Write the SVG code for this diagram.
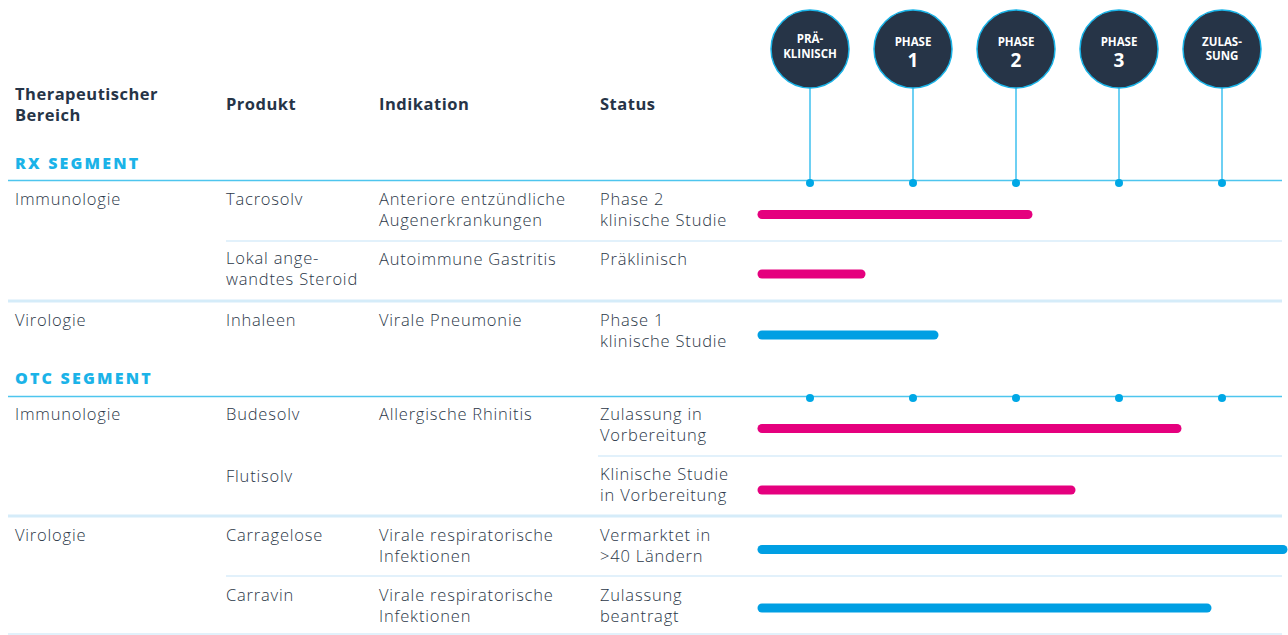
<svg xmlns="http://www.w3.org/2000/svg" width="1288" height="635" viewBox="0 0 1288 635">
<style>
.hd{font-family:"Open Sans","Liberation Sans",sans-serif;font-weight:700;font-size:16.5px;fill:#263447;letter-spacing:0.5px}
.tx{font-family:"Open Sans","Liberation Sans",sans-serif;font-weight:300;font-size:16.5px;fill:#2b3748;letter-spacing:0.8px}
.seg{font-family:"Open Sans","Liberation Sans",sans-serif;font-weight:800;font-size:16px;fill:#1bb3e8;letter-spacing:2.2px}
.ct{font-family:"Open Sans","Liberation Sans",sans-serif;font-weight:700;font-size:11.5px;fill:#ffffff;text-anchor:middle}
.cn{font-family:"Open Sans","Liberation Sans",sans-serif;font-weight:700;font-size:19px;fill:#ffffff;text-anchor:middle}
.axis{stroke:#4ec5ee;stroke-width:1.5;fill:none}
.sep{stroke:#e2f1fb;stroke-width:2;fill:none}
.sepb{stroke:#d5ecf9;stroke-width:3;fill:none}
.stem{stroke:#3ec1ef;stroke-width:1.5}
.dot{fill:#00a8e6}
.circ{fill:#263447;stroke:#1ab4e8;stroke-width:1.5}
.barm{stroke:#e5007e;stroke-width:9;stroke-linecap:round}
.barb{stroke:#009fe3;stroke-width:9;stroke-linecap:round}
</style>
<rect width="1288" height="635" fill="#ffffff"/>

<g id="headers">
<text class="hd" x="15" y="100">Therapeutischer</text>
<text class="hd" x="15" y="121">Bereich</text>
<text class="hd" x="226" y="110">Produkt</text>
<text class="hd" x="379" y="110">Indikation</text>
<text class="hd" x="600" y="110">Status</text>
<text class="seg" x="15" y="169">RX SEGMENT</text>
<text class="seg" x="15" y="384">OTC SEGMENT</text>
</g>

<g id="connectors">
<line class="axis" x1="8" y1="180.5" x2="1282" y2="180.5"/>
<line class="axis" x1="8" y1="396.5" x2="1282" y2="396.5"/>
<line class="sep" x1="226" y1="241" x2="1282" y2="241"/>
<line class="sepb" x1="8" y1="301" x2="1282" y2="301"/>
<line class="sep" x1="598" y1="456" x2="1282" y2="456"/>
<line class="sepb" x1="8" y1="516" x2="1282" y2="516"/>
<line class="sep" x1="226" y1="576" x2="1282" y2="576"/>
<line class="sep" x1="8" y1="634" x2="1282" y2="634"/>
<line class="stem" x1="810" y1="88" x2="810" y2="183"/>
<line class="stem" x1="913" y1="88" x2="913" y2="183"/>
<line class="stem" x1="1016" y1="88" x2="1016" y2="183"/>
<line class="stem" x1="1119" y1="88" x2="1119" y2="183"/>
<line class="stem" x1="1222" y1="88" x2="1222" y2="183"/>
<circle class="dot" cx="810" cy="183" r="4"/>
<circle class="dot" cx="913" cy="183" r="4"/>
<circle class="dot" cx="1016" cy="183" r="4"/>
<circle class="dot" cx="1119" cy="183" r="4"/>
<circle class="dot" cx="1222" cy="183" r="4"/>
<circle class="dot" cx="810" cy="398" r="4"/>
<circle class="dot" cx="913" cy="398" r="4"/>
<circle class="dot" cx="1016" cy="398" r="4"/>
<circle class="dot" cx="1119" cy="398" r="4"/>
<circle class="dot" cx="1222" cy="398" r="4"/>
</g>

<g id="phase-praeklinisch">
<circle class="circ" cx="810" cy="49" r="39"/>
<text class="ct" x="810" y="43">PRÄ-</text>
<text class="ct" x="810" y="58">KLINISCH</text>
</g>
<g id="phase-1">
<circle class="circ" cx="913" cy="49" r="39"/>
<text class="ct" x="913" y="46">PHASE</text>
<text class="cn" x="913" y="67">1</text>
</g>
<g id="phase-2">
<circle class="circ" cx="1016" cy="49" r="39"/>
<text class="ct" x="1016" y="46">PHASE</text>
<text class="cn" x="1016" y="67">2</text>
</g>
<g id="phase-3">
<circle class="circ" cx="1119" cy="49" r="39"/>
<text class="ct" x="1119" y="46">PHASE</text>
<text class="cn" x="1119" y="67">3</text>
</g>
<g id="phase-zulassung">
<circle class="circ" cx="1222" cy="49" r="39"/>
<text class="ct" x="1222" y="46">ZULAS-</text>
<text class="ct" x="1222" y="60">SUNG</text>
</g>

<g id="row-tacrosolv">
<text class="tx" x="15" y="205">Immunologie</text>
<text class="tx" x="226" y="205">Tacrosolv</text>
<text class="tx" x="379" y="205">Anteriore entzündliche</text>
<text class="tx" x="379" y="226">Augenerkrankungen</text>
<text class="tx" x="600" y="205">Phase 2</text>
<text class="tx" x="600" y="226">klinische Studie</text>
<line class="barm" x1="762" y1="214.5" x2="1028" y2="214.5"/>
</g>
<g id="row-steroid">
<text class="tx" x="226" y="264">Lokal ange-</text>
<text class="tx" x="226" y="285">wandtes Steroid</text>
<text class="tx" x="379" y="265">Autoimmune Gastritis</text>
<text class="tx" x="600" y="265">Präklinisch</text>
<line class="barm" x1="762" y1="274" x2="861" y2="274"/>
</g>
<g id="row-inhaleen">
<text class="tx" x="15" y="326">Virologie</text>
<text class="tx" x="226" y="326">Inhaleen</text>
<text class="tx" x="379" y="326">Virale Pneumonie</text>
<text class="tx" x="600" y="326">Phase 1</text>
<text class="tx" x="600" y="347">klinische Studie</text>
<line class="barb" x1="762" y1="335" x2="934" y2="335"/>
</g>
<g id="row-budesolv">
<text class="tx" x="15" y="420">Immunologie</text>
<text class="tx" x="226" y="420">Budesolv</text>
<text class="tx" x="379" y="420">Allergische Rhinitis</text>
<text class="tx" x="600" y="420">Zulassung in</text>
<text class="tx" x="600" y="441">Vorbereitung</text>
<line class="barm" x1="762" y1="428.5" x2="1177" y2="428.5"/>
</g>
<g id="row-flutisolv">
<text class="tx" x="226" y="482">Flutisolv</text>
<text class="tx" x="600" y="480">Klinische Studie</text>
<text class="tx" x="600" y="501">in Vorbereitung</text>
<line class="barm" x1="762" y1="490" x2="1071" y2="490"/>
</g>
<g id="row-carragelose">
<text class="tx" x="15" y="541">Virologie</text>
<text class="tx" x="226" y="541">Carragelose</text>
<text class="tx" x="379" y="541">Virale respiratorische</text>
<text class="tx" x="379" y="562">Infektionen</text>
<text class="tx" x="600" y="541">Vermarktet in</text>
<text class="tx" x="600" y="562">&gt;40 Ländern</text>
<line class="barb" x1="762" y1="549.5" x2="1283" y2="549.5"/>
</g>
<g id="row-carravin">
<text class="tx" x="226" y="601">Carravin</text>
<text class="tx" x="379" y="601">Virale respiratorische</text>
<text class="tx" x="379" y="622">Infektionen</text>
<text class="tx" x="600" y="601">Zulassung</text>
<text class="tx" x="600" y="622">beantragt</text>
<line class="barb" x1="762" y1="608" x2="1207" y2="608"/>
</g>
</svg>
